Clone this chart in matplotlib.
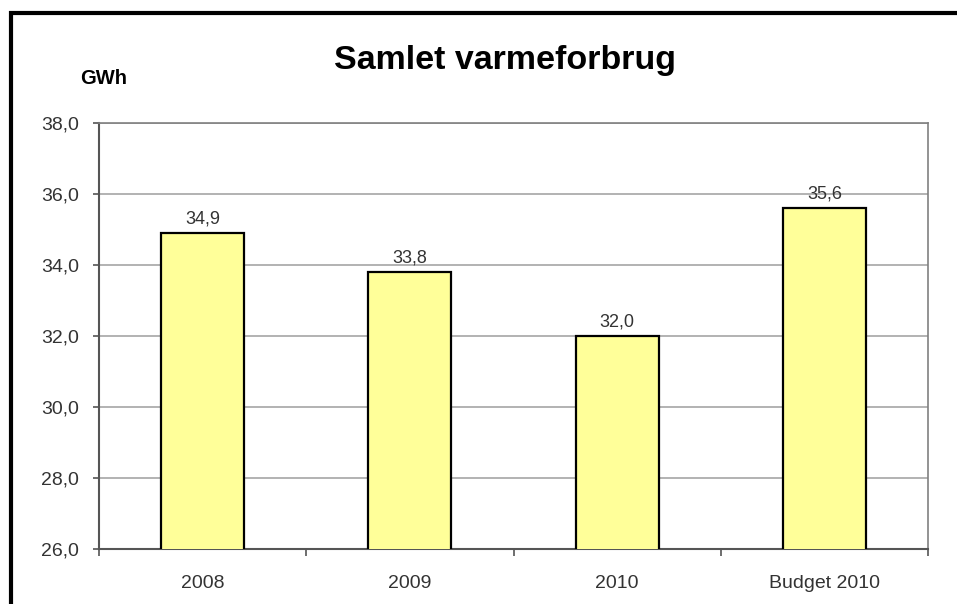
import matplotlib.pyplot as plt
from matplotlib.patches import Rectangle

# data
categories = ['2008', '2009', '2010', 'Budget 2010']
values = [34.9, 33.8, 32.0, 35.6]
y_ticks = [26, 28, 30, 32, 34, 36, 38]

plt.rcParams['font.family'] = ['Liberation Sans', 'DejaVu Sans']

fig = plt.figure(figsize=(9.57, 6.04), dpi=100)
fig.patch.set_facecolor('white')

# black frame around the chart (cut off at right and bottom)
fig.patches.append(Rectangle((11 / 957, -0.1), 1.2, 1 - 13.5 / 604 + 0.1,
                             transform=fig.transFigure, fill=False,
                             edgecolor='black', linewidth=3))

ax = fig.add_axes([99 / 957, 1 - 549 / 604, (928 - 99) / 957, (549 - 123) / 604])
x = range(len(categories))
bars = ax.bar(x, values, width=0.4, bottom=0, color='#FFFF99',
              edgecolor='black', linewidth=1.6, zorder=3)

ax.set_ylim(26, 38)
ax.set_xlim(-0.5, len(categories) - 0.5)
ax.set_yticks(y_ticks)
ax.set_yticklabels([f'{v:.1f}'.replace('.', ',') for v in y_ticks],
                   fontsize=14, color='#333333')
ax.set_xticks(list(x))
ax.set_xticklabels(categories, fontsize=14, color='#333333')
ax.tick_params(axis='x', length=0, pad=19)
ax.tick_params(axis='y', length=4.5, width=1.2, color='#555555', pad=10)

# category boundary ticks on x axis
ax.set_xticks([i - 0.5 for i in range(len(categories) + 1)], minor=True)
ax.tick_params(axis='x', which='minor', length=5, width=1.2, color='#555555')

ax.grid(axis='y', color='#A6A6A6', linewidth=1.2, zorder=0)
for side in ['left', 'bottom']:
    ax.spines[side].set_color('#555555')
    ax.spines[side].set_linewidth(1.5)
for side in ['top', 'right']:
    ax.spines[side].set_color('#808080')
    ax.spines[side].set_linewidth(1.2)

for xi, v in zip(x, values):
    ax.annotate(f'{v:.1f}'.replace('.', ','), (xi, v), xytext=(0, 4),
                textcoords='offset points', ha='center', va='bottom',
                fontsize=13, color='#333333')

fig.text(505 / 957, 1 - 60 / 604, 'Samlet varmeforbrug', ha='center', va='center',
         fontsize=24.5, fontweight='bold', color='black')
fig.text(80 / 957, 1 - 79 / 604, 'GWh', ha='left', va='center',
         fontsize=14.5, fontweight='bold', color='black')

fig.savefig('out.png', dpi=100)
